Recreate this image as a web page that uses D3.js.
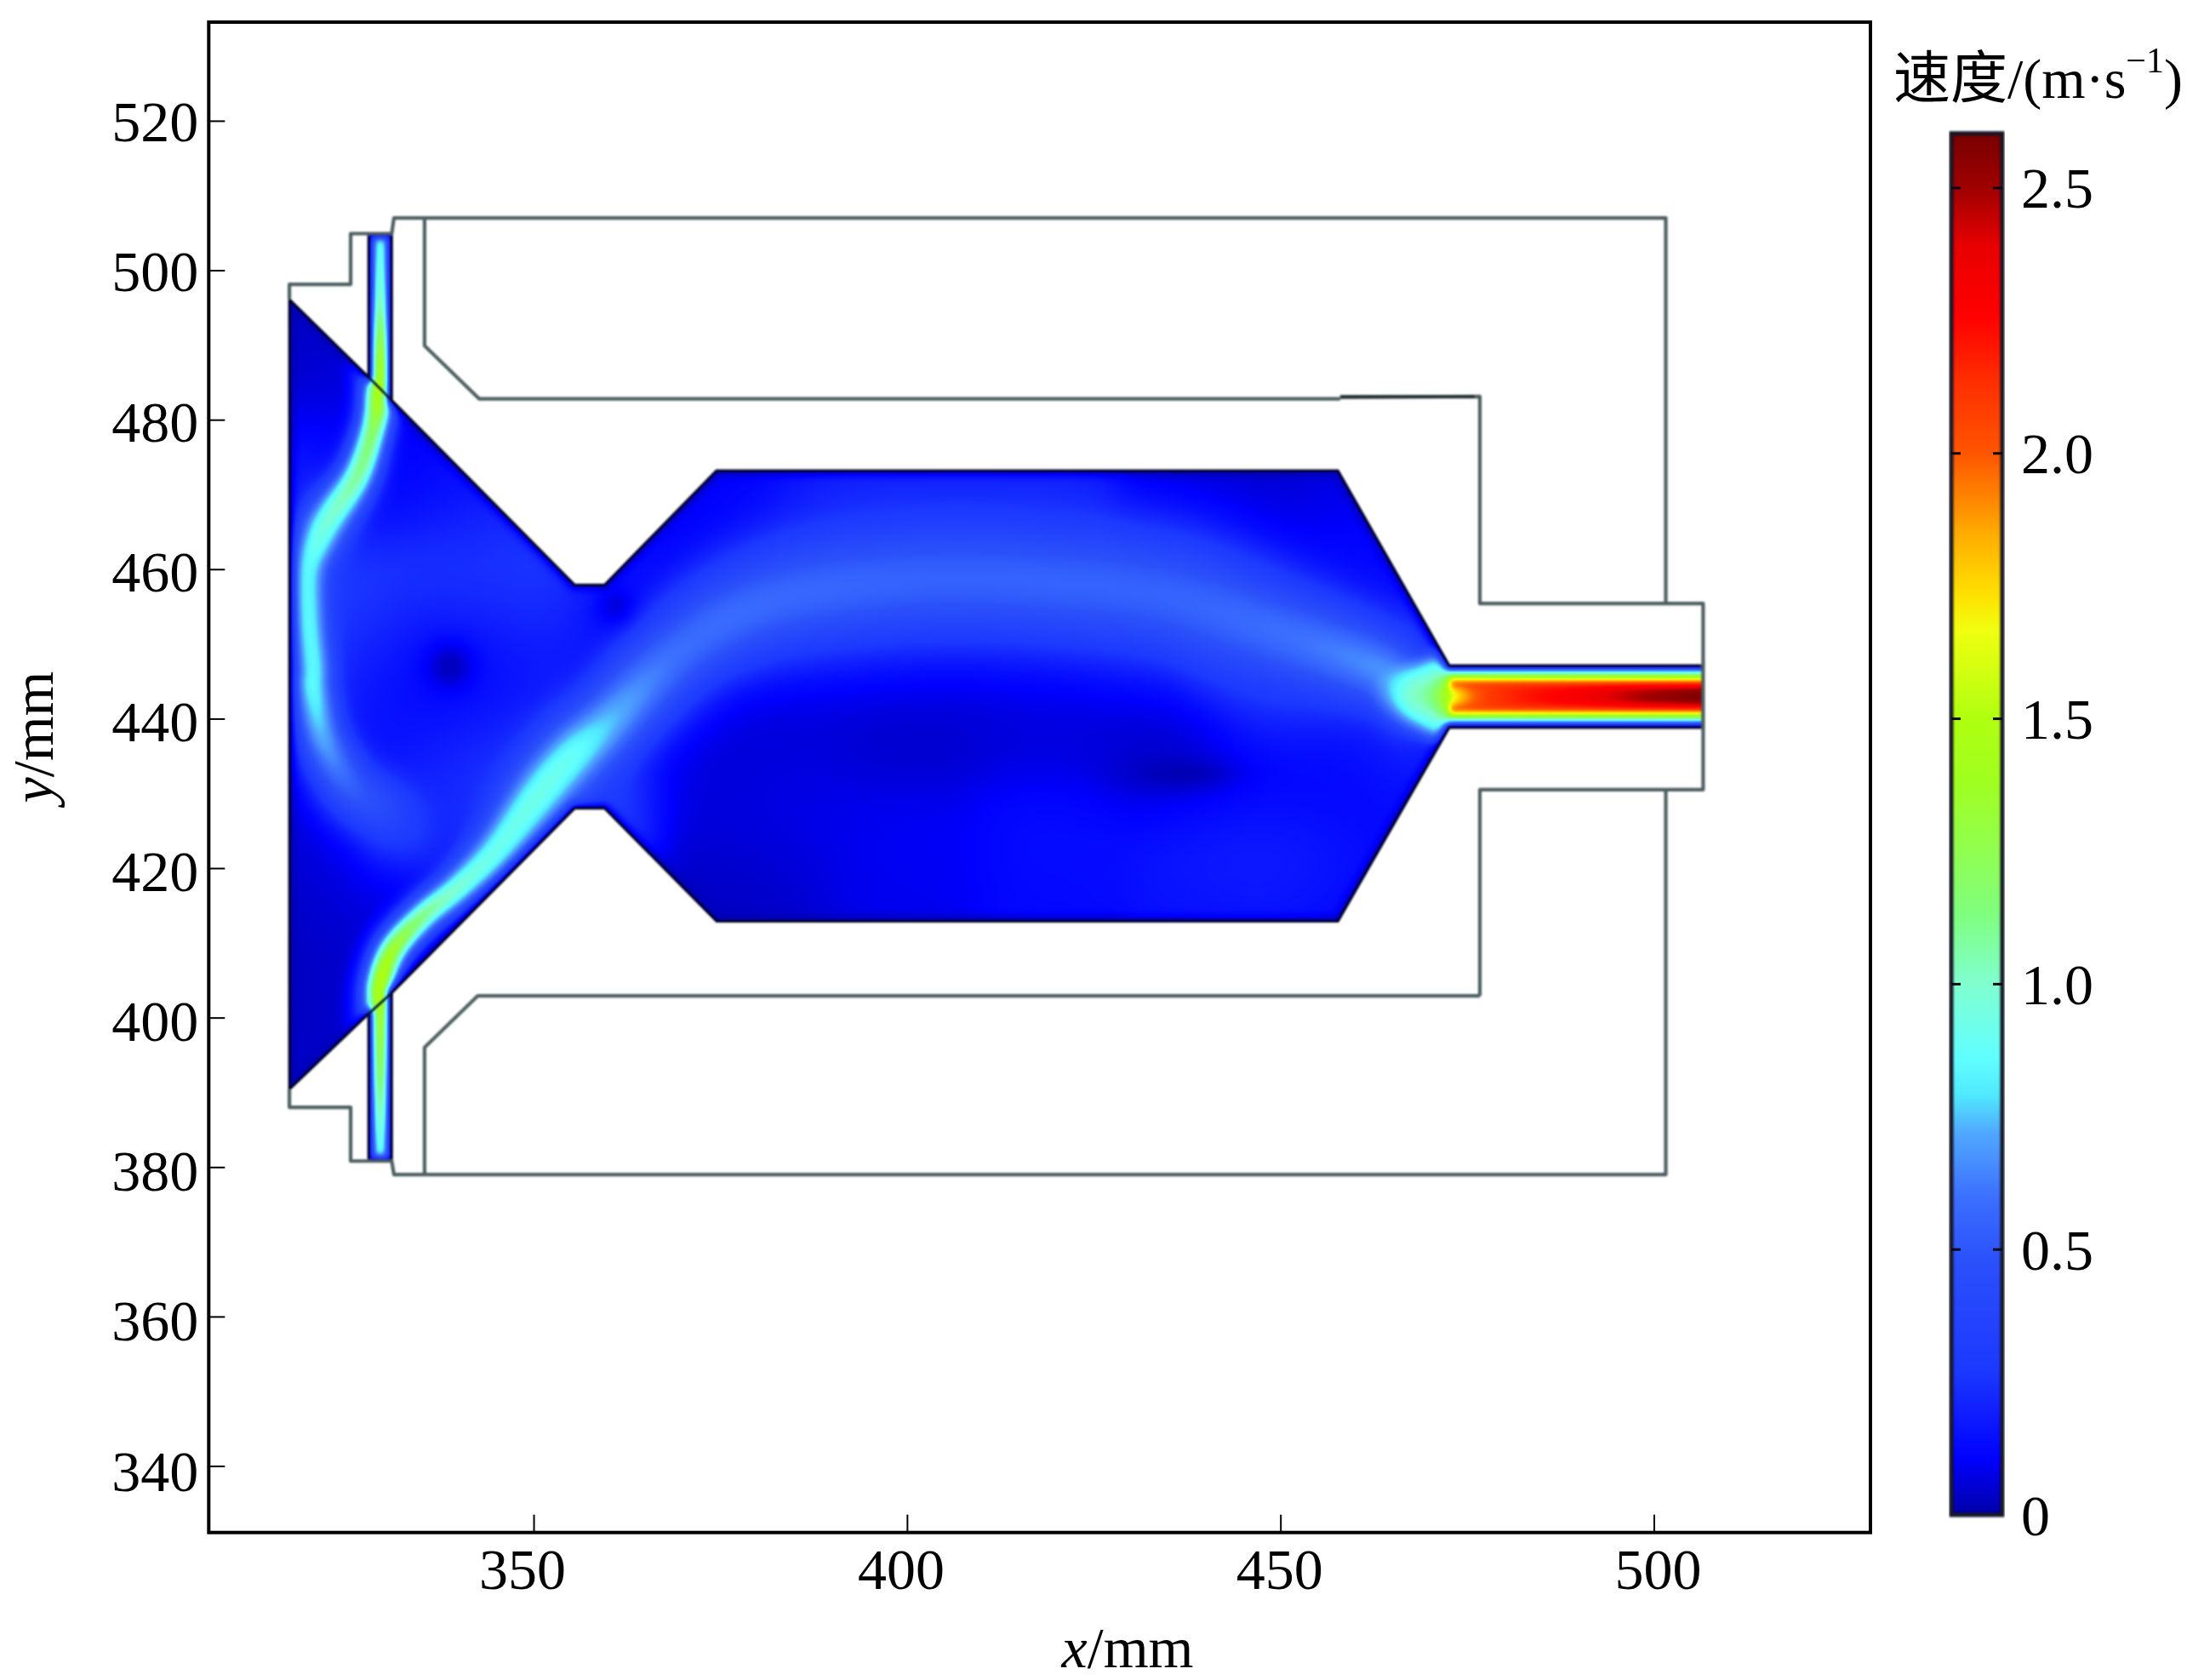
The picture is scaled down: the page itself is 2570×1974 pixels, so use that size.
<!DOCTYPE html>
<html><head><meta charset="utf-8">
<script src="https://cdnjs.cloudflare.com/ajax/libs/d3/7.8.5/d3.min.js"></script>
<style>
html,body{margin:0;background:#fff}
#wrap{position:relative;width:2570px;height:1974px;overflow:hidden}
canvas,svg{position:absolute;left:0;top:0}
text{font-family:"Liberation Serif",serif;fill:#000}
</style></head><body><div id="wrap"><canvas id="field" width="2570" height="1974"></canvas><svg id="chart" width="2570" height="1974"></svg></div>
<script>
// ---- axis data ----
const xDomain=[306.5,529], yDomain=[331.1,533.2];
const xTicks=[350,400,450,500];
const yTicks=[340,360,380,400,420,440,460,480,500,520];
const barTicks=[0,0.5,1,1.5,2,2.5];
const barMax=2.603;
// ---- colour bar ----
const colourValues=[0,0.01,0.105,0.27,0.475,0.6,0.72,0.79,0.86,1.0,1.13,1.25,1.38,1.5,1.665,1.735,1.84,2.0,2.13,2.26,2.39,2.5,2.603];
const colourStops=["#00009a","#0000b0","#0000ff","#1c38ff","#2a50fa","#3c70ff","#50a8ff","#50e8ff","#60ffff","#80ffd0","#80ff80","#90ff50","#a0ff20","#b0ff10","#f0ff10","#ffe000","#ffb000","#ff5500","#ff3000","#ff0000","#e80000","#a00000","#780000"];
// ---- geometry, mm ----
const fluidDomain=[[317.3,496.1],[327.9,485.7],[327.9,504.9],[331,504.9],[331,482.6],[355.5,457.9],[359.5,457.9],[374.5,473.2],[457.7,473.2],[472.6,447.1],[506.6,447.1],[506.6,438.8],[472.6,438.8],[457.7,412.9],[374.5,412.9],[359.5,428],[355.5,428],[331,403.3],[331,380.8],[327.9,380.8],[327.9,400.5],[317.3,390.4]];
const outerTop=[[317.3,496.1],[317.3,498.1],[325.5,498.1],[325.5,504.9],[331,504.9],[331.3,507],[501.6,507],[501.6,455.4]];
const outerBottom=[[317.3,390.4],[317.3,388],[325.5,388],[325.5,380.8],[331,380.8],[331.3,379],[501.6,379],[501.6,430.5]];
const innerUpper=[[335.4,507],[335.4,489.9],[342.7,482.8],[458,482.8]];
const innerStep=[[458,483],[476.7,483.1],[476.7,455.4],[506.6,455.4],[506.6,430.5],[476.7,430.5],[476.7,402.9]];
const innerLower=[[476.7,402.9],[342.5,402.9],[335.4,396],[335.4,379]];
const baffles=[[[327.9,485.7],[331,482.6]],[[327.9,400.5],[331,403.3]]];
// ---- velocity ridges: x, y, speed, half-width (mm) ----
const jetUpper=[[329.5,504.9,.95,1.9],[329.5,503.5,.98,1.9],[329.5,496.3,1.15,1.9],[329.5,488.2,1.55,1.8],[329.3,483.4,1.55,1.7],[328.5,478.7,1.25,1.8],[326.4,472.5,1.12,2.2],[323,467.3,1,2.8],[321.5,464.6,.95,2.9],[319.9,459.9,.85,2.7],[319.9,453.4,.85,2.6],[320.5,446.8,.85,2.6],[320.5,443.8,.85,2.7],[321.9,437.2,.72,3.1],[325.3,431.2,.55,4],[329.8,427.6,.42,5],[333.5,424.6,.28,6],[338,421,.12,6]];
const jetLower=[[329.5,380.8,.95,1.9],[329.5,382.3,.98,1.9],[329.5,392.8,1.35,1.9],[329.5,401.4,1.55,1.8],[329.6,405,1.55,1.7],[331.3,409.3,1.4,1.8],[335.2,413.6,1.15,2],[340.1,417.6,1,2.4],[345,422.4,.92,3.2],[350.7,429.8,.92,4.2],[355.2,435,.88,4.6],[360.3,439.8,.75,5],[368.5,448.1,.6,6],[376.6,453.6,.58,7],[386.9,456.9,.56,8],[402.9,458.6,.54,8.5],[418.8,458.2,.54,8.5],[434.9,456.4,.55,8.5],[450.9,451.3,.58,7],[462.8,446.8,.66,5.5],[467.7,443.3,.72,4.5]];
// ---- background speed ----
const bgX=[319.6,327.1,318.7,325,338.3,345.8,352.7,340.2,327.1,333,338.3,344,347.7,329,342,318.7,318.7,319.6,324.3,332.8,330,340.2,355,360.5,365,375.7,390.6,418.6,440,446.6,452.2,375,383,400,420,437.3,450,458,465,385,400,420,440,452,380,400,420,440,455,450];
const bgY=[485.8,475,472,482,470.8,465.2,458.7,457.8,452.1,445,447,447,450,437.2,437.2,442.8,424.2,409.2,401.7,420.4,413,426,432,455,450,470.8,467.1,467.1,470,469,461.5,435,442.8,439,440,432.5,432,430,438,425,422,422,422,420,416,415,415,415,415,445];
const bgV=[.03,.1,.25,.06,.12,.2,.35,.32,.3,.14,.03,.12,.2,.15,.25,.2,.06,.03,.04,.1,.06,.25,.3,.06,.12,.1,.2,.2,.04,.04,.12,.06,.06,.04,.06,.02,.1,.1,.2,.08,.1,.14,.22,.25,.03,.08,.12,.12,.08,.3];
// slow vortex cores: x, y, depth, radius x, radius y
const vortices=[[338.8,447,.85,3.2,3.2],[437,432.6,.8,7,2.2],[361,455,.6,2.6,2.6]];
// ---- outlet ----
const throatX=[462,464,466.6,469,470.7,472.6,473.9,475.7,478,482.5,490.5,498.5,506.6,512];
const throatV=[.3,.5,.8,.95,1.15,1.5,1.75,1.95,2.1,2.2,2.33,2.5,2.6,2.6];
const profileS=[.42,.55,.65,.8,.91,1];
const profileV=[2.1,1.73,1.3,.85,.18,0];
const outletCentre=443, outletHalf=4.15, throatStart=472.6;
// tick-label positions in the reference drift a little from their ticks
const xLabelAt=d3.scaleLinear([350,500],[613.6,1948]);
const yLabelAt=d3.scaleLinear([340,520],[1727.5,142.3]);

const x=d3.scaleLinear(xDomain,[245.3,2198]);
const y=d3.scaleLinear(yDomain,[1800.7,26]);
const colour=d3.scaleLinear(colourValues,colourStops).clamp(true).interpolate(d3.interpolateRgb);
const barY=d3.scaleLinear([0,barMax],[1780,156.7]);

function smooth(pts,n){ // Catmull-Rom through the read points
  const out=[];
  for(let i=0;i<pts.length-1;i++){
    const p0=pts[Math.max(i-1,0)],p1=pts[i],p2=pts[i+1],p3=pts[Math.min(i+2,pts.length-1)];
    for(let k=0;k<n;k++){const t=k/n,t2=t*t,t3=t2*t;
      out.push(p1.map((_,c)=>.5*(2*p1[c]+(p2[c]-p0[c])*t+(2*p0[c]-5*p1[c]+4*p2[c]-p3[c])*t2+(3*p1[c]-p0[c]-3*p2[c]+p3[c])*t3)));}
  }
  out.push(pts[pts.length-1]);return out;
}
const lineA=smooth(jetUpper,6),lineB=smooth(jetLower,6);

// speed field on a pixel grid
const step=2, x0=x(317.3)-6, y0=y(507)-6;
const W=Math.ceil((x(510)-x0)/step)+6, H=Math.ceil((y(379)-y0)/step)+6;
const data=new Float32Array(W*H);
const throatCurve=d3.scaleLinear(throatX,throatV).clamp(true);
const profCurve=d3.scaleLinear(profileS,profileV).clamp(true);
function segD(px,py,a,b){const dx=b[0]-a[0],dy=b[1]-a[1];let t=((px-a[0])*dx+(py-a[1])*dy)/(dx*dx+dy*dy);t=t<0?0:t>1?1:t;const ex=px-a[0]-t*dx,ey=py-a[1]-t*dy;return [ex*ex+ey*ey,t];}
function jet(px,py,line){let best=1e9,bi=0,bt=0;for(let i=0;i<line.length-1;i++){const r=segD(px,py,line[i],line[i+1]);if(r[0]<best){best=r[0];bi=i;bt=r[1];}}
  const a=line[bi],b=line[bi+1],v=a[2]+(b[2]-a[2])*bt,w=a[3]+(b[3]-a[3])*bt,d2=best/(w*w);
  return v*(.7*Math.exp(-d2)+.3*Math.exp(-d2/4));}
const edges=fluidDomain.map((p,i)=>[p,fluidDomain[(i+1)%fluidDomain.length]]);
for(let j=0;j<H;j++)for(let i=0;i<W;i++){
  const mx=x.invert(x0+i*step),my=y.invert(y0+j*step);
  if(mx>=throatStart){
    const s=Math.abs(my-outletCentre)/outletHalf,c=throatCurve(mx),q=s/.42;
    if(s>1)continue;
    data[j*W+i]=s<.42?c+(2.1-c)*q*q*(c>2.1?q:1):profCurve(s);
    continue;
  }
  if(!d3.polygonContains(fluidDomain,[mx,my]))continue;
  let sw=0,sv=0;
  for(let k=0;k<bgX.length;k++){const dx=mx-bgX[k],dy=my-bgY[k],g=Math.exp(-(dx*dx+dy*dy)/84);sw+=g;sv+=g*bgV[k];}
  const bg=sw>1e-9?sv/sw:.1;
  const ra=jet(mx,my,lineA),rb=jet(mx,my,lineB);
  const dy=my-outletCentre,xe=mx-.2*dy*dy;
  const th=xe>462?throatCurve(xe):0;
  let v=Math.cbrt(bg*bg*bg+ra*ra*ra+rb*rb*rb+th*th*th);
  for(const q of vortices){const a=(mx-q[0])/q[3],b=(my-q[1])/q[4];v*=1-q[2]*Math.exp(-a*a-b*b);}
  let dm=1e9;for(const e of edges){const r=segD(mx,my,e[0],e[1])[0];if(r<dm)dm=r;}
  const dn=Math.sqrt(dm)/.65;
  data[j*W+i]=v*(1-Math.exp(-dn*Math.sqrt(dn)));
}
d3.blur2({data,width:W,height:H},1.2);
const off=document.createElement('canvas');off.width=W;off.height=H;
const oc=off.getContext('2d'),img=oc.createImageData(W,H);
for(let n=0;n<W*H;n++){const c=d3.rgb(colour(data[n]));img.data[n*4]=c.r;img.data[n*4+1]=c.g;img.data[n*4+2]=c.b;img.data[n*4+3]=255;}
oc.putImageData(img,0,0);
const ctx=document.getElementById('field').getContext('2d');
const line=d3.line(d=>x(d[0]),d=>y(d[1]));
ctx.save();ctx.clip(new Path2D(line(fluidDomain)+"Z"));
ctx.imageSmoothingEnabled=true;ctx.imageSmoothingQuality='high';
ctx.drawImage(off,x0-step/2,y0-step/2,W*step,H*step);ctx.restore();

// vector layer
const svg=d3.select('#chart');
const defs=svg.append('defs');
defs.append('filter').attr('id','soft').attr('x','-5%').attr('y','-5%').attr('width','110%').attr('height','110%').append('feGaussianBlur').attr('stdDeviation',.9);
const grad=defs.append('linearGradient').attr('id','bar').attr('x1',0).attr('x2',0).attr('y1',1).attr('y2',0);
colourValues.forEach((v,i)=>grad.append('stop').attr('offset',v/barMax).attr('stop-color',colourStops[i]));

const walls=svg.append('g').attr('fill','none').attr('stroke-linejoin','round').attr('filter','url(#soft)');
walls.append('path').attr('d',line(fluidDomain)+"Z").attr('stroke','#00002a').attr('stroke-width',3);
baffles.forEach(b=>walls.append('path').attr('d',line(b)).attr('stroke','#001028').attr('stroke-width',2.6));
[outerTop,outerBottom,innerUpper,innerLower,innerStep].forEach(p=>walls.append('path').attr('d',line(p)).attr('stroke','#4e5e60').attr('stroke-width',4.2));
walls.append('path').attr('d',line([[458,483.1],[476,483.1]])).attr('stroke','#1e2a2c').attr('stroke-width',3.4);

// frame and axes
svg.append('rect').attr('x',x.range()[0]).attr('y',y.range()[1]).attr('width',x.range()[1]-x.range()[0]).attr('height',y.range()[0]-y.range()[1]).attr('fill','none').attr('stroke','#000').attr('stroke-width',4);
const gx=svg.append('g').attr('transform',`translate(0,${y.range()[0]})`).call(d3.axisBottom(x).tickValues(xTicks).tickSize(-21).tickPadding(66).tickFormat(d3.format('d')));
const gy=svg.append('g').attr('transform',`translate(${x.range()[0]},0)`).call(d3.axisLeft(y).tickValues(yTicks).tickSize(-19).tickPadding(12).tickFormat(d3.format('d')));
[gx,gy].forEach(g=>{g.select('.domain').remove();g.selectAll('line').attr('stroke','#000').attr('stroke-width',2);g.selectAll('text').attr('font-size',68).attr('font-family','"Liberation Serif",serif').attr('fill','#000');});
gx.selectAll('text').attr('dy',0).attr('dx',d=>xLabelAt(d)-x(d));
gy.selectAll('text').attr('dy',d=>yLabelAt(d)-y(d)+23.5);

const xl=svg.append('text').attr('x',1325).attr('y',1959).attr('text-anchor','middle').attr('font-size',68);
xl.append('tspan').attr('font-style','italic').text('x');xl.append('tspan').text('/mm');
const yl=svg.append('text').attr('transform','translate(62,866) rotate(-90)').attr('text-anchor','middle').attr('font-size',68);
yl.append('tspan').attr('font-style','italic').text('y');yl.append('tspan').text('/mm');

// colour bar
svg.append('rect').attr('x',2293).attr('y',barY(barMax)).attr('width',60).attr('height',barY(0)-barY(barMax)).attr('fill','url(#bar)');
svg.append('rect').attr('x',2293).attr('y',barY(barMax)).attr('width',60).attr('height',barY(0)-barY(barMax)).attr('fill','none').attr('stroke','#141826').attr('stroke-width',5).attr('filter','url(#soft)');
const gb=svg.append('g').attr('transform','translate(2353,0)').call(d3.axisRight(barY).tickValues(barTicks).tickSize(0).tickPadding(22).tickFormat(d=>d===0?'0':d3.format('.1f')(d)));
gb.select('.domain').remove();
gb.selectAll('line').remove();
gb.selectAll('text').attr('font-size',68).attr('font-family','"Liberation Serif",serif').attr('fill','#000').attr('dy',23);
const bt=svg.append('g').attr('stroke','#0a0a14').attr('stroke-width',3);
barTicks.filter(d=>d>0).forEach(d=>{bt.append('line').attr('x1',2293).attr('x2',2304).attr('y1',barY(d)).attr('y2',barY(d));bt.append('line').attr('x1',2342).attr('x2',2353).attr('y1',barY(d)).attr('y2',barY(d));});

// title
const t=svg.append('text').attr('x',2225).attr('y',115).attr('font-size',66);
t.append('tspan').attr('font-family','"Noto Sans CJK SC"').attr('font-size',67).text('速度');
t.append('tspan').text('/(m·s');
t.append('tspan').attr('font-size',42).attr('dy',-30).text('−1');
t.append('tspan').attr('dy',30).text(')');
</script></body></html>
